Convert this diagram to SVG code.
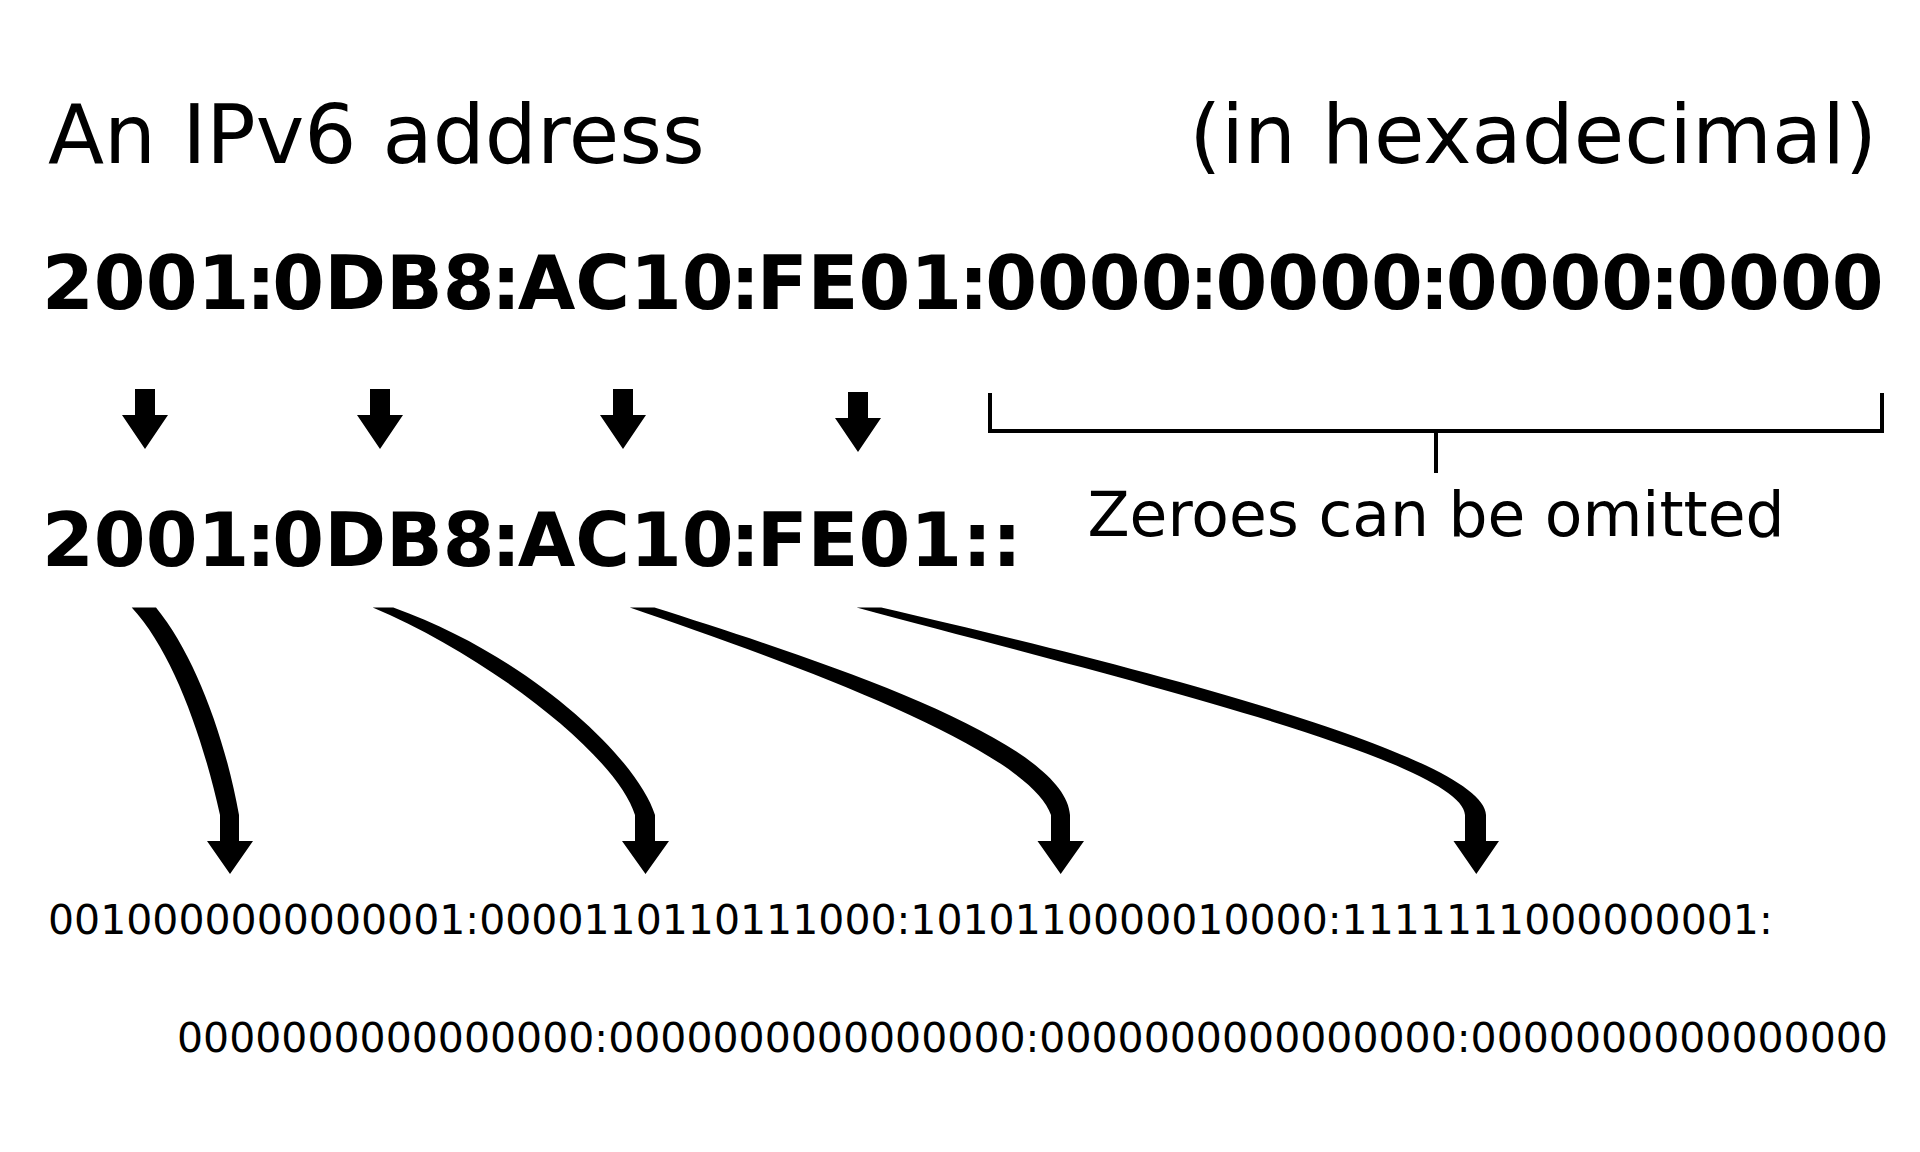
<svg xmlns="http://www.w3.org/2000/svg" xmlns:xlink="http://www.w3.org/1999/xlink" width="1920" height="1152" viewBox="0 0 1920 1152">
<style>
  text { font-family: "DejaVu Sans", "Noto Sans", sans-serif; fill: #000; }
  .title { font-size: 82px; }
  .hex { font-size: 74.5px; font-weight: bold; }
  .note { font-size: 61.5px; }
  .bin { font-size: 41px; }
  .arrow { fill: #000; stroke: none; }
  .bracket { fill: none; stroke: #000; stroke-width: 4; }
</style>
<defs>
  <path id="dn" d="M-10,0 H10 V26 H23 L0,60 L-23,26 H-10 Z"/>
</defs>
<rect x="0" y="0" width="1920" height="1152" fill="#fff"/>

<g id="title-left"><text class="title" x="48" y="163">An IPv6 address</text></g>
<g id="title-right"><text class="title" x="1877" y="163" text-anchor="end">(in hexadecimal)</text></g>

<g id="full-address"><text class="hex" x="42" y="309">2001<tspan dx="-3.4">:</tspan><tspan dx="-3.4">0DB8</tspan><tspan dx="-3.4">:</tspan><tspan dx="-3.4">AC10</tspan><tspan dx="-3.4">:</tspan><tspan dx="-3.4">FE01</tspan><tspan dx="-3.4">:</tspan><tspan dx="-3.4">0000</tspan><tspan dx="-3.4">:</tspan><tspan dx="-3.4">0000</tspan><tspan dx="-3.4">:</tspan><tspan dx="-3.4">0000</tspan><tspan dx="-3.4">:</tspan><tspan dx="-3.4">0000</tspan></text></g>
<g id="short-address"><text class="hex" x="42" y="566">2001<tspan dx="-3.4">:</tspan><tspan dx="-3.4">0DB8</tspan><tspan dx="-3.4">:</tspan><tspan dx="-3.4">AC10</tspan><tspan dx="-3.4">:</tspan><tspan dx="-3.4">FE01::</tspan></text></g>

<g id="zeroes-note">
  <path class="bracket" d="M990,393 V431 H1882 V393 M1436,431 V473"/>
  <text class="note" x="1436" y="536" text-anchor="middle">Zeroes can be omitted</text>
</g>

<g id="binary">
  <text class="bin" x="48" y="934">0010000000000001:0000110110111000:1010110000010000:1111111000000001:</text>
  <text class="bin" x="177" y="1052">0000000000000000:0000000000000000:0000000000000000:0000000000000000</text>
</g>

<g id="connectors" class="arrow">
  <use xlink:href="#dn" href="#dn" x="145" y="389"/>
  <use xlink:href="#dn" href="#dn" x="380" y="389"/>
  <use xlink:href="#dn" href="#dn" x="623" y="389"/>
  <use xlink:href="#dn" href="#dn" x="858" y="392"/>
  <path d="M131.7,607.5 C172.5,651.1 202.7,736.9 220,815 V841 H207 L230,874 L253,841 H239 V815 C224.9,736.2 194.4,654.5 156,607.5 Z"/>
  <path d="M372.7,607.5 C492.3,658.1 617.6,757.4 635,815 V841 H622 L645.5,874 L669,841 H655 V815 C637,758 529.6,656.2 393.3,607.5 Z"/>
  <path d="M629.8,607.5 C790.6,662.6 1028,748 1051,815 V841 H1037.5 L1060.7,874 L1084,841 H1070 V815 C1065,740 820,660 654.5,607.5 Z"/>
  <path d="M856.6,607.5 C1107.5,675.1 1462,760 1465,815 V841 H1453.5 L1476.3,874 L1499,841 H1486 V815 C1484,755 1130,665 881.3,607.5 Z"/>
</g>
</svg>
